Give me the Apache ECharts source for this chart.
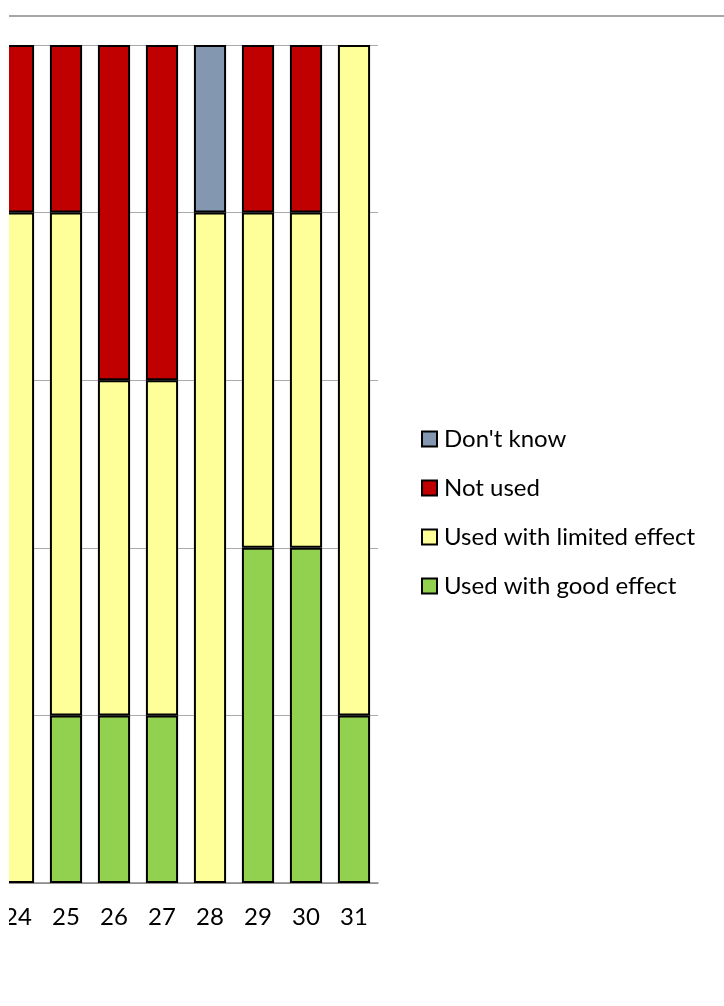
<!DOCTYPE html>
<html>
<head>
<meta charset="utf-8">
<script src="https://cdn.jsdelivr.net/npm/echarts@6/dist/echarts.min.js"></script>
<style>
  html, body { margin: 0; padding: 0; background: #fff; }
  #chart { width: 724px; height: 1006px; }
</style>
</head>
<body>
<div id="chart"></div>
<script>
// Respondent categories and stacked counts per response type
const categories = ['24', '25', '26', '27', '28', '29', '30', '31'];
const goodEffect    = [0, 1, 1, 1, 0, 2, 2, 1];
const limitedEffect = [4, 3, 2, 2, 4, 2, 2, 4];
const notUsed       = [1, 1, 2, 2, 0, 1, 1, 0];
const dontKnow      = [0, 0, 0, 0, 1, 0, 0, 0];
const yTicks = { min: 0, max: 5, interval: 1 };

const FONT = 'Lato, "Open Sans", sans-serif';

function barSeries(name, data, color) {
  return {
    name: name,
    type: 'bar',
    stack: 'total',
    // empty segments are left out so they draw no border line
    data: data.map(v => (v === 0 ? null : v)),
    barWidth: '67%',
    itemStyle: { color: color, borderColor: '#000', borderWidth: 2 },
    emphasis: { disabled: true }
  };
}

const chart = echarts.init(document.getElementById('chart'), null, { renderer: 'canvas' });
chart.setOption({
  animation: false,
  backgroundColor: '#fff',
  grid: { left: -6, right: 346, top: 45, bottom: 123, containLabel: false, outerBoundsMode: 'none' },
  xAxis: {
    type: 'category',
    data: categories,
    axisLine: { lineStyle: { color: '#868686', width: 1.5 } },
    axisTick: { show: false },
    axisLabel: { color: '#000', fontSize: 24, fontFamily: FONT, margin: 22 }
  },
  yAxis: {
    type: 'value',
    min: yTicks.min, max: yTicks.max, interval: yTicks.interval,
    axisLine: { show: false },
    axisTick: { show: false },
    axisLabel: { show: false },
    splitLine: { lineStyle: { color: '#aaaaaa', width: 1 } }
  },
  legend: {
    orient: 'vertical',
    left: 421,
    top: 427,
    padding: 0,
    itemWidth: 15,
    itemHeight: 15,
    itemGap: 25,
    icon: 'rect',
    textStyle: { color: '#000', fontSize: 24, lineHeight: 23, fontFamily: FONT, padding: [0, 0, 0, 2] },
    data: ["Don't know", 'Not used', 'Used with limited effect', 'Used with good effect']
  },
  series: [
    barSeries('Used with good effect', goodEffect, '#92D050'),
    barSeries('Used with limited effect', limitedEffect, '#FFFF99'),
    barSeries('Not used', notUsed, '#C00000'),
    barSeries("Don't know", dontKnow, '#8497B0')
  ],
  graphic: [
    { type: 'line', shape: { x1: 9, y1: 16, x2: 724, y2: 16 }, style: { stroke: '#888', lineWidth: 1.5 }, z: 100 },
    { type: 'rect', shape: { x: 0, y: 0, width: 9, height: 1006 }, style: { fill: '#fff' }, z: 100 }
  ]
});
</script>
</body>
</html>
